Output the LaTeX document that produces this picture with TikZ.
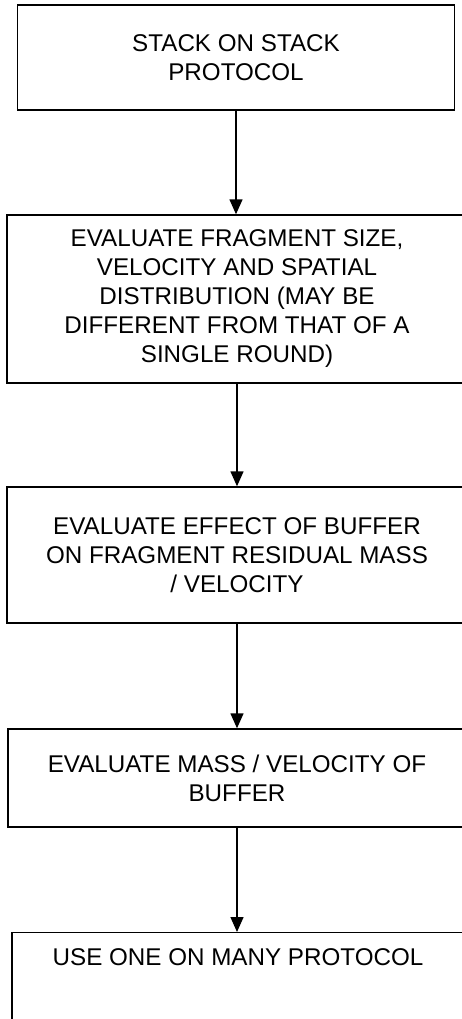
\documentclass[tikz,border=0pt]{standalone}
\usepackage{fontspec}
\setmainfont{Liberation Sans}
\usetikzlibrary{arrows.meta}

\tikzset{
  stepbox/.style={draw, line width=1.4pt, align=center, inner sep=0pt,
    font=\fontsize{24.2}{29}\selectfont},
  flow/.style={line width=1.4pt, -{Triangle[length=15pt,width=13pt]}}
}

\begin{document}
\begin{tikzpicture}[x=1pt,y=-1pt]
  % page frame
  \useasboundingbox (0,0) rectangle (462,1019);
  \clip (0,0) rectangle (462,1019);

  % draw steps
  \node[stepbox, minimum width=437pt, minimum height=105pt] (stack) at (236,57.5)
    {STACK ON STACK\\PROTOCOL};
  \node[stepbox, minimum width=460pt, minimum height=168pt] (fragment) at (237,299)
    {EVALUATE FRAGMENT SIZE,\\VELOCITY AND SPATIAL\\DISTRIBUTION (MAY BE\\DIFFERENT FROM THAT OF A\\SINGLE ROUND)};
  \node[stepbox, minimum width=460pt, minimum height=136pt] (effect) at (237,555)
    {EVALUATE EFFECT OF BUFFER\\ON FRAGMENT RESIDUAL MASS\\/ VELOCITY};
  \node[stepbox, minimum width=458pt, minimum height=98pt] (mass) at (237,778)
    {EVALUATE MASS / VELOCITY OF\\BUFFER};
  \node[stepbox, minimum width=452pt, text height=33pt, text depth=110pt, anchor=north] (onemany) at (238,932)
    {USE ONE ON MANY PROTOCOL};

  % draw arrows
  \draw[flow] (stack.south) -- (stack.south |- fragment.north);
  \draw[flow] (fragment.south) -- (fragment.south |- effect.north);
  \draw[flow] (effect.south) -- (effect.south |- mass.north);
  \draw[flow] (mass.south) -- (mass.south |- onemany.north);
\end{tikzpicture}
\end{document}
